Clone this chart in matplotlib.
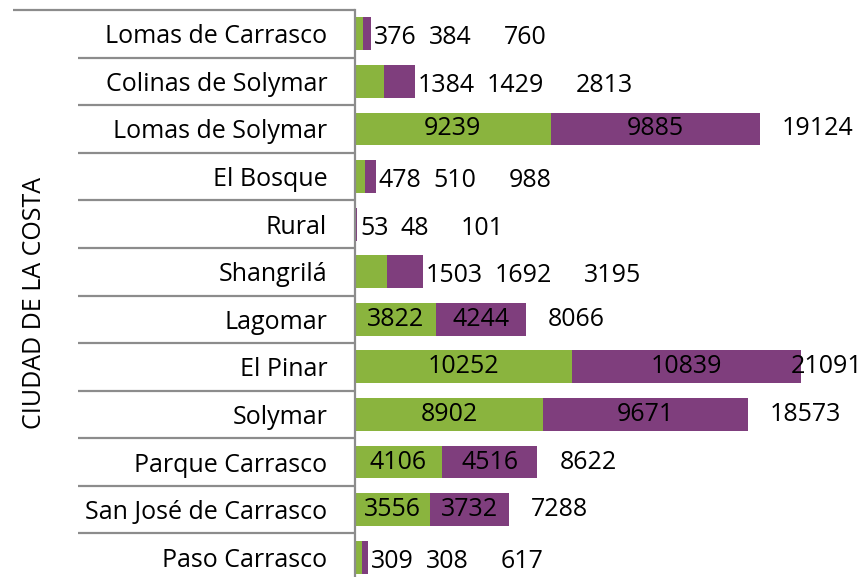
import matplotlib.pyplot as plt
import matplotlib.transforms as mtransforms

plt.rcParams['font.family'] = ['Open Sans', 'DejaVu Sans']

# poblacion por barrio, Ciudad de la Costa
barrios = ["Lomas de Carrasco", "Colinas de Solymar", "Lomas de Solymar", "El Bosque",
           "Rural", "Shangrilá", "Lagomar", "El Pinar", "Solymar", "Parque Carrasco",
           "San José de Carrasco", "Paso Carrasco"]
hombres = [376, 1384, 9239, 478, 53, 1503, 3822, 10252, 8902, 4106, 3556, 309]
mujeres = [384, 1429, 9885, 510, 48, 1692, 4244, 10839, 9671, 4516, 3732, 308]
totales = [h + m for h, m in zip(hombres, mujeres)]

verde = "#8ab43e"
violeta = "#7f3e7d"
gris = "#8c8c8c"
fs = 18

W, H = 865, 577
fig = plt.figure(figsize=(W / 100, H / 100), dpi=100)
ax_left, ax_top, ax_bot = 355, 10, 581
ax = fig.add_axes([ax_left / W, (H - ax_bot) / H, (W - ax_left) / W, (ax_bot - ax_top) / H])

y = list(range(len(barrios)))
ax.barh(y, hombres, height=0.69, color=verde, edgecolor="none")
ax.barh(y, mujeres, left=hombres, height=0.69, color=violeta, edgecolor="none")

xmax = 24100
ax.set_xlim(0, xmax)
ax.set_ylim(len(barrios) - 0.5, -0.5)
ax.set_xticks([])
ax.set_yticks(y)
ax.set_yticklabels(barrios, fontsize=fs)
ax.tick_params(axis="y", length=0, pad=20)
for s in ["top", "right", "bottom"]:
    ax.spines[s].set_visible(False)
ax.spines["left"].set_color(gris)
ax.spines["left"].set_linewidth(1.6)

# lineas separadoras del eje de categorias
trans = mtransforms.blended_transform_factory(ax.transAxes, ax.transData)
sep_x0 = (78 - ax_left) / (W - ax_left)
borde_x0 = (13 - ax_left) / (W - ax_left)
for k in range(1, len(barrios)):
    ax.plot([sep_x0, 0], [k - 0.5, k - 0.5], transform=trans, color=gris, lw=1.6,
            clip_on=False, solid_capstyle="butt")
for yb in [-0.5, len(barrios) - 0.5]:
    ax.plot([borde_x0, 0], [yb, yb], transform=trans, color=gris, lw=1.6,
            clip_on=False, solid_capstyle="butt")

fig.text(35 / W, 1 - 303 / H, "CIUDAD DE LA COSTA", rotation=90, fontsize=fs,
         ha="center", va="center")

# etiquetas de valores
renderer = fig.canvas.get_renderer()
for i, (h, m, t) in enumerate(zip(hombres, mujeres, totales)):
    if t > 5000:
        ax.text(h / 2, i, f"{h}", ha="center", va="center", fontsize=fs)
        ax.text(h + m / 2, i, f"{m}", ha="center", va="center", fontsize=fs)
        if t > 0.85 * xmax:
            ax.annotate(f"{t}", xy=(xmax, i), xytext=(-2, 0), textcoords="offset pixels",
                        ha="right", va="center", fontsize=fs)
        else:
            ax.annotate(f"{t}", xy=(t, i), xytext=(22, 0), textcoords="offset pixels",
                        ha="left", va="center", fontsize=fs)
    else:
        # etiquetas en fila a la derecha de la barra
        dx = 3
        for val, gap in [(h, 12), (m, 32), (t, 0)]:
            txt = ax.annotate(f"{val}", xy=(t, i), xytext=(dx, -4), textcoords="offset pixels",
                              ha="left", va="center", fontsize=fs)
            dx += txt.get_window_extent(renderer).width + gap

fig.savefig("out.png", dpi=100)
